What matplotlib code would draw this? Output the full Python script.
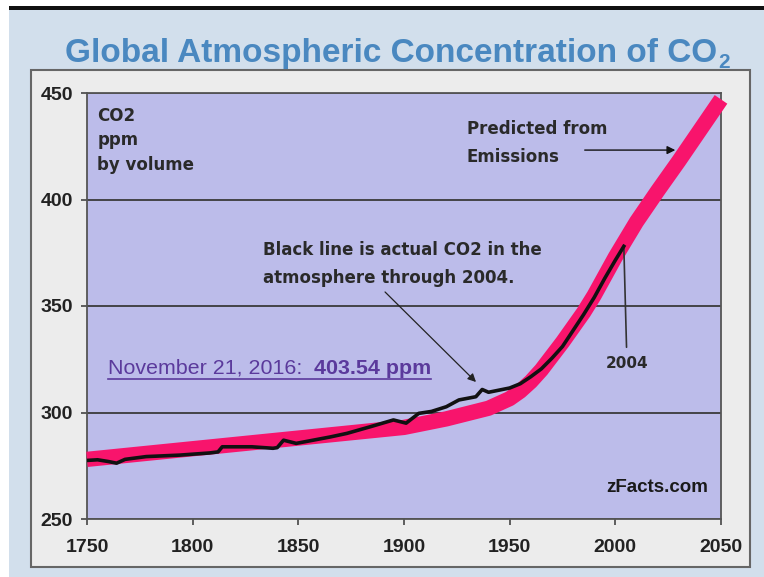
import numpy as np
import matplotlib
matplotlib.use('Agg')
import matplotlib.pyplot as plt
from matplotlib.patches import Rectangle
from matplotlib.lines import Line2D

plt.rcParams['font.family'] = ['Liberation Sans', 'DejaVu Sans']

# predicted from emissions (pink band)
pred_years = [1750, 1775, 1800, 1825, 1850, 1875, 1900, 1920, 1940, 1950, 1955,
              1960, 1965, 1970, 1975, 1980, 1985, 1990, 2000, 2010, 2020, 2030,
              2040, 2050]
pred_ppm = [278, 280.5, 283, 285.5, 288, 290.5, 293, 297, 302, 306.5, 310,
            314.5, 320, 326.5, 333, 340, 347, 355, 373, 389.5, 404, 418,
            432.5, 447]

# actual CO2 through 2004 (black line)
act_years = [1750, 1755, 1760, 1764, 1768, 1778, 1794, 1808, 1812, 1814, 1828,
             1838, 1840, 1843, 1849, 1857, 1865, 1873, 1884, 1895, 1901, 1907,
             1913, 1920, 1926, 1934, 1937, 1940, 1945, 1950, 1955, 1960, 1965,
             1970, 1975, 1980, 1985, 1990, 1995, 2000, 2004]
act_ppm = [277.5, 277.8, 277, 276.2, 278, 279.3, 280, 281, 281.5, 283.9, 283.9,
           283.2, 283.5, 287, 285.5, 287, 288.5, 290.2, 293.3, 296.5, 295, 299.6,
           300.5, 302.7, 305.9, 307.4, 310.8, 309.5, 310.5, 311.5, 313.5, 316.8, 320.5,
           325.5, 331, 338.5, 346, 354, 363, 371.5, 378]

x_ticks = [1750, 1800, 1850, 1900, 1950, 2000, 2050]
y_ticks = [250, 300, 350, 400, 450]

W, H = 764, 577
fig = plt.figure(figsize=(W / 100, H / 100), dpi=100)
fig.patch.set_facecolor('white')

# slide background + top bar + light panel
fig.add_artist(Rectangle((9 / W, 0), 1, (H - 10) / H, transform=fig.transFigure,
                         facecolor='#d2dfec', edgecolor='none', zorder=0))
fig.add_artist(Rectangle((9 / W, (H - 10) / H), 1, 4 / H, transform=fig.transFigure,
                         facecolor='#111111', edgecolor='none', zorder=0))
fig.add_artist(Rectangle((31 / W, 10 / H), 719 / W, 497 / H, transform=fig.transFigure,
                         facecolor='#ececec', edgecolor='#666666', lw=1.5, zorder=0))

title_color = '#4a88c0'
title = fig.text(65 / W, (H - 62) / H, 'Global Atmospheric Concentration of CO',
                 fontsize=24, fontweight='bold', color=title_color, ha='left', va='baseline')

ax = fig.add_axes([87 / W, 58 / H, 634 / W, 426 / H])
ax.set_facecolor('#bcbcea')
ax.set_xlim(1750, 2050)
ax.set_ylim(250, 450)
ax.set_xticks(x_ticks)
ax.set_yticks(y_ticks)
ax.grid(axis='y', color='#3a3a3a', lw=1.3)
ax.set_axisbelow(True)
for s in ax.spines.values():
    s.set_color('#555555')
    s.set_linewidth(1.3)
ax.tick_params(axis='both', direction='out', length=4.5, width=1.2, color='#444444',
               labelsize=14, labelcolor='#222222')
ax.tick_params(axis='y', pad=5.5)
ax.tick_params(axis='x', pad=10)
for lbl in ax.get_xticklabels() + ax.get_yticklabels():
    lbl.set_fontweight('bold')

ax.plot(pred_years, pred_ppm, color='#f8146c', lw=11, solid_capstyle='butt',
        solid_joinstyle='round', clip_on=False, zorder=3)
ax.plot(act_years, act_ppm, color='#111111', lw=2.6, zorder=4)

ann = dict(fontsize=12, fontweight='bold', color='#2a2a2a', family='DejaVu Sans')
ax.text(0.016, 0.967, 'CO2\nppm\nby volume', transform=ax.transAxes, ha='left', va='top',
        linespacing=1.45, **ann)
ax.text(0.599, 0.937, 'Predicted from\nEmissions', transform=ax.transAxes, ha='left',
        va='top', linespacing=1.7, **ann)
ax.annotate('', xy=(2029.7, 423.2), xytext=(1984.2, 423.2),
            arrowprops=dict(arrowstyle='-|>', color='#111111', lw=1, mutation_scale=12))
ax.text(0.2776, 0.6526, 'Black line is actual CO2 in the\natmosphere through 2004.',
        transform=ax.transAxes, ha='left', va='top', linespacing=1.75, **ann)
ax.annotate('', xy=(1935.0, 313.4), xytext=(1890.1, 357.5),
            arrowprops=dict(arrowstyle='-|>', color='#222222', lw=0.9, mutation_scale=12))
ax.annotate('2004', xy=(2004, 378.5), xytext=(2005.5, 323.2), ha='center', va='center',
            fontsize=11, fontweight='bold', color='#2a2a2a', family='DejaVu Sans',
            arrowprops=dict(arrowstyle='-', color='#333333', lw=1.2, shrinkA=4, shrinkB=0))
ax.text(0.9795, 0.0728, 'zFacts.com', transform=ax.transAxes, ha='right', va='center',
        fontsize=13.5, fontweight='bold', color='#1a1a1a')

purple = '#5b3a9c'
t1 = ax.text(0.0331, 0.3404, 'November 21, 2016:  ', transform=ax.transAxes,
             ha='left', va='baseline', fontsize=15.4, color=purple)

fig.canvas.draw()
r = fig.canvas.get_renderer()
bb = t1.get_window_extent(r)
inv = ax.transAxes.inverted()
x1 = inv.transform((bb.x1, bb.y0))[0]
t2 = ax.text(x1, 0.3404, '403.54 ppm', transform=ax.transAxes, ha='left', va='baseline',
             fontsize=15.4, fontweight='bold', color=purple)
fig.canvas.draw()
bb2 = t2.get_window_extent(r)
x_end = inv.transform((bb2.x1, bb2.y0))[0]
ax.add_line(Line2D([0.0331, x_end], [0.3286, 0.3286], transform=ax.transAxes,
                   color=purple, lw=1.2))

# subscript 2 after the title
tb = title.get_window_extent(r)
fx, fy = fig.transFigure.inverted().transform((tb.x1 + 1, tb.y0))
fig.text(fx, (H - 68) / H, '2', fontsize=15, fontweight='bold', color=title_color,
         ha='left', va='baseline')

fig.savefig('out.png', dpi=100)
